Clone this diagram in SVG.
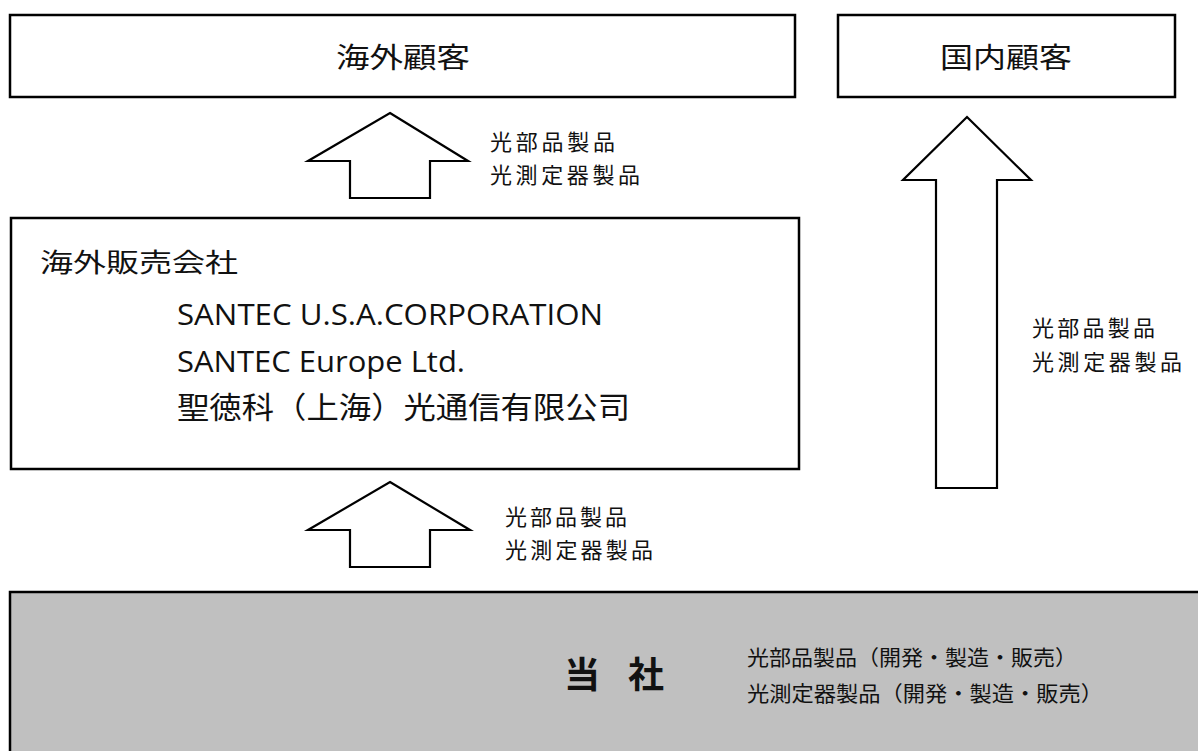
<svg xmlns="http://www.w3.org/2000/svg" width="1198" height="751" viewBox="0 0 1198 751">
<style>
.box{fill:#fff;stroke:#000;stroke-width:2.5}
.arrow{fill:#fff;stroke:#000;stroke-width:2.2;stroke-linejoin:miter}
.jp{font-family:"Noto Sans CJK JP","Noto Sans",sans-serif;fill:#111}
.en{font-family:"Open Sans","Noto Sans",sans-serif;fill:#111}
</style>
<rect width="1198" height="751" fill="#fff"/>
<g id="overseas-customers">
<rect class="box" x="10" y="15" width="785" height="82"/>
<text class="jp" x="336" y="68" font-size="28" textLength="134" lengthAdjust="spacingAndGlyphs">海外顧客</text>
</g>
<g id="domestic-customers">
<rect class="box" x="838" y="15" width="337" height="82"/>
<text class="jp" x="940" y="68" font-size="28" textLength="132" lengthAdjust="spacingAndGlyphs">国内顧客</text>
</g>
<g id="overseas-sales">
<rect class="box" x="11" y="218" width="788" height="251"/>
<text class="jp" x="40" y="272" font-size="26" textLength="198" lengthAdjust="spacingAndGlyphs">海外販売会社</text>
<text class="en" x="177" y="325" font-size="29" textLength="426" lengthAdjust="spacingAndGlyphs">SANTEC U.S.A.CORPORATION</text>
<text class="en" x="177" y="372" font-size="29" textLength="288" lengthAdjust="spacingAndGlyphs">SANTEC Europe Ltd.</text>
<text class="jp" x="177" y="418" font-size="30" textLength="453" lengthAdjust="spacingAndGlyphs">聖徳科（上海）光通信有限公司</text>
</g>
<g id="company">
<rect x="10" y="592" width="1200" height="170" fill="#c0c0c0" stroke="#000" stroke-width="2.5"/>
<text class="jp" x="564" y="688" font-size="36" font-weight="bold" textLength="100" lengthAdjust="spacing">当 社</text>
<text class="jp" x="747" y="665" font-size="21" textLength="330" lengthAdjust="spacingAndGlyphs">光部品製品（開発・製造・販売）</text>
<text class="jp" x="747" y="701" font-size="21" textLength="356" lengthAdjust="spacingAndGlyphs">光測定器製品（開発・製造・販売）</text>
</g>
<g id="connectors">
<polygon class="arrow" points="390,113 468,161 430,161 430,198 350,198 350,161 308,161"/>
<polygon class="arrow" points="390,482 470,530 430,530 430,567 350,567 350,530 308,530"/>
<polygon class="arrow" points="967,117 1031,180 997,180 997,488 936,488 936,180 903,180"/>
<text class="jp" font-size="22" x="490" y="150" textLength="125" lengthAdjust="spacing">光部品製品</text>
<text class="jp" font-size="22" x="490" y="183" textLength="150" lengthAdjust="spacing">光測定器製品</text>
<text class="jp" font-size="22" x="505" y="525" textLength="122" lengthAdjust="spacing">光部品製品</text>
<text class="jp" font-size="22" x="505" y="558" textLength="148" lengthAdjust="spacing">光測定器製品</text>
<text class="jp" font-size="22" x="1032" y="336" textLength="123" lengthAdjust="spacing">光部品製品</text>
<text class="jp" font-size="22" x="1032" y="370" textLength="150" lengthAdjust="spacing">光測定器製品</text>
</g>
</svg>
